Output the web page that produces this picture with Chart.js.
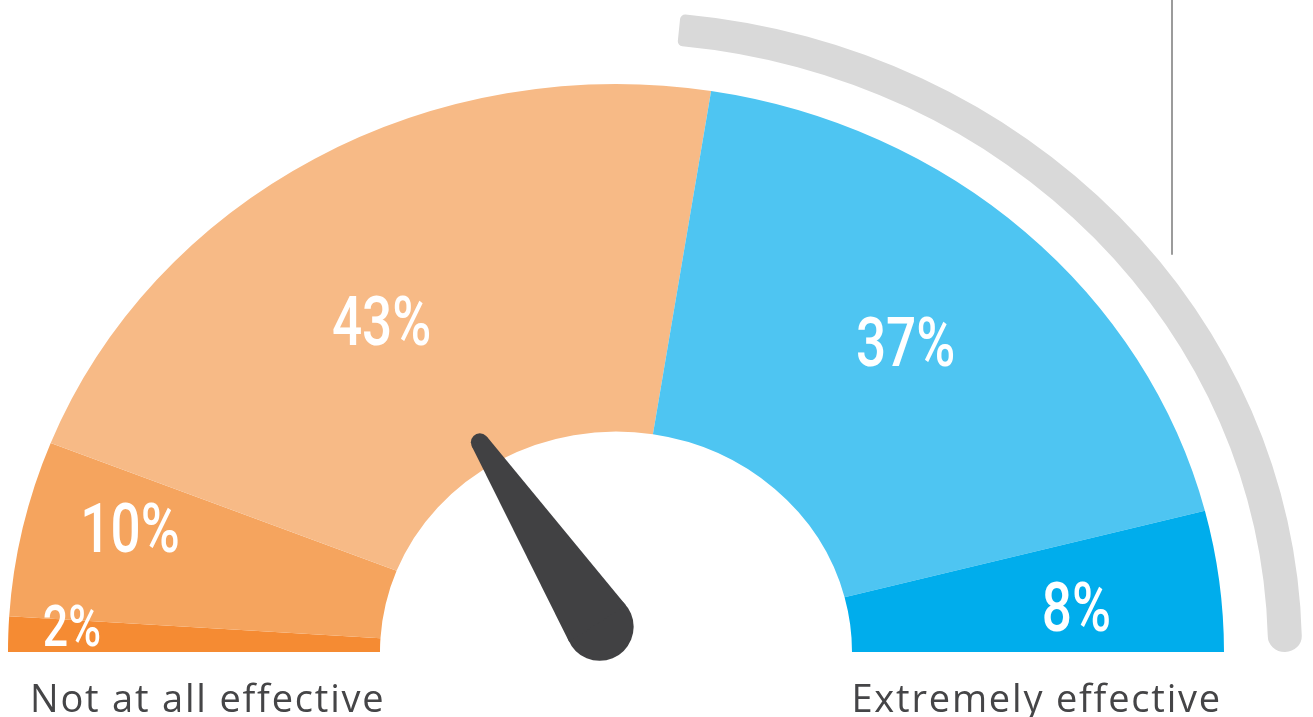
<!DOCTYPE html>
<html lang="en">
<head>
<meta charset="UTF-8">
<title>Effectiveness gauge</title>
<script src="https://cdn.jsdelivr.net/npm/chart.js"></script>
<style>
  html, body { margin: 0; padding: 0; background: #fff; overflow: hidden; }
  #gauge { display: block; }
</style>
</head>
<body>
<canvas id="gauge" width="1313" height="717"></canvas>
<script>
// answers from "not at all" (left) to "extremely" effective (right)
const shares = [2, 10, 43, 37, 8];
const sliceColors = ['#F58B33', '#F5A45E', '#F7BA86', '#4EC5F2', '#00ADEC'];
const scaleEnds = ['Not at all effective', 'Extremely effective'];

// grey bracket over the top answers, starts at this % of the dial
const bracketStart = 53;

// geometry / look
const ring = { inner: 236, outer: 608, gap: 44, bracket: 34 };
const squash = 0.934;                       // dial is a bit flatter than a circle
const labelDepth = [0.83, 0.72, 0.51, 0.55, 0.61];
const labelNudge = [1.2, 2.7, -3.7, -1.2, 1.2];   // degrees, along the dial
const needle = { angle: 57, base: 30, tip: 250, baseR: 34, tipR: 9 };
const totalR = ring.outer + ring.gap + ring.bracket;

const gaugeDecor = {
    id: 'gaugeDecor',
    beforeDatasetsDraw(chart) {
        const c = chart.getDatasetMeta(2).data[0];
        const ctx = chart.ctx;
        ctx.save();
        ctx.translate(c.x, c.y);
        ctx.scale(1, squash);
        ctx.translate(-c.x, -c.y);
    },
    afterDatasetsDraw(chart) {
        const ctx = chart.ctx;
        ctx.restore();
        const meta = chart.getDatasetMeta(2);
        const cx = meta.data[0].x, cy = meta.data[0].y;

        // percent labels
        meta.data.forEach((arc, i) => {
            const p = arc.getProps(['startAngle', 'endAngle', 'innerRadius', 'outerRadius']);
            const a = (p.startAngle + p.endAngle) / 2 + labelNudge[i] * Math.PI / 180;
            const r = p.innerRadius + labelDepth[i] * (p.outerRadius - p.innerRadius);
            const size = shares[i] < 5 ? 58 : 69;
            const cap = size * 0.711;
            const x = cx + r * Math.cos(a);
            const y = Math.min(cy + r * Math.sin(a) * squash, cy - cap / 2 - 6);
            ctx.save();
            ctx.translate(x, y + cap / 2);
            ctx.scale(0.77, 1);
            ctx.font = '500 ' + size + 'px Roboto';
            ctx.fillStyle = '#ffffff';
            ctx.textAlign = 'center';
            ctx.textBaseline = 'alphabetic';
            ctx.fillText(shares[i] + '%', 0, 0);
            ctx.restore();
        });

        // needle
        const t = needle.angle * Math.PI / 180;
        const ux = -Math.cos(t), uy = -Math.sin(t);
        const nx = -uy, ny = ux;
        const bx = cx + ux * needle.base, by = cy + uy * needle.base;
        const tx = cx + ux * needle.tip, ty = cy + uy * needle.tip;
        const phi = Math.asin((needle.baseR - needle.tipR) / (needle.tip - needle.base));
        ctx.fillStyle = '#414143';
        ctx.beginPath();
        ctx.arc(bx, by, needle.baseR, 0, 2 * Math.PI);
        ctx.fill();
        ctx.beginPath();
        ctx.arc(tx, ty, needle.tipR, 0, 2 * Math.PI);
        ctx.fill();
        ctx.beginPath();
        [1, -1].forEach((s, k) => {
            const wx = s * nx * Math.cos(phi) + ux * Math.sin(phi);
            const wy = s * ny * Math.cos(phi) + uy * Math.sin(phi);
            if (k === 0) {
                ctx.moveTo(bx + wx * needle.baseR, by + wy * needle.baseR);
                ctx.lineTo(tx + wx * needle.tipR, ty + wy * needle.tipR);
            } else {
                ctx.lineTo(tx + wx * needle.tipR, ty + wy * needle.tipR);
                ctx.lineTo(bx + wx * needle.baseR, by + wy * needle.baseR);
            }
        });
        ctx.closePath();
        ctx.fill();

        // thin grey pointer line top right
        ctx.strokeStyle = '#9B9B9B';
        ctx.lineWidth = 2;
        ctx.lineCap = 'round';
        ctx.beginPath();
        ctx.moveTo(1172, -2);
        ctx.lineTo(1172, 254);
        ctx.stroke();

        // scale end captions
        ctx.font = '400 38px "Open Sans"';
        ctx.letterSpacing = '1.8px';
        ctx.fillStyle = '#454547';
        ctx.textBaseline = 'alphabetic';
        ctx.textAlign = 'left';
        ctx.fillText(scaleEnds[0], 30, 712);
        ctx.textAlign = 'right';
        ctx.fillText(scaleEnds[1], 1222, 712);
        ctx.letterSpacing = '0px';
    }
};

new Chart(document.getElementById('gauge'), {
    type: 'doughnut',
    data: {
        labels: shares.map(v => v + '%'),
        datasets: [
            {
                data: [bracketStart, 100 - bracketStart],
                backgroundColor: ['rgba(0,0,0,0)', '#D9D9D9'],
                borderWidth: 0,
                weight: ring.bracket,
                borderRadius: c => c.dataIndex === 1 ? { outerStart: 5, innerStart: 5, outerEnd: 17, innerEnd: 17 } : 0
            },
            {
                data: [100],
                backgroundColor: 'rgba(0,0,0,0)',
                borderWidth: 0,
                weight: ring.gap
            },
            {
                data: shares,
                backgroundColor: sliceColors,
                borderWidth: 0,
                weight: ring.outer - ring.inner
            }
        ]
    },
    options: {
        responsive: false,
        animation: false,
        events: [],
        rotation: -90,
        circumference: 180,
        radius: totalR,
        cutout: (ring.inner / totalR * 100) + '%',
        layout: { padding: { left: 0, right: 81, top: 0, bottom: 99 } },
        plugins: {
            legend: { display: false },
            tooltip: { enabled: false }
        }
    },
    plugins: [gaugeDecor]
});
</script>
</body>
</html>
